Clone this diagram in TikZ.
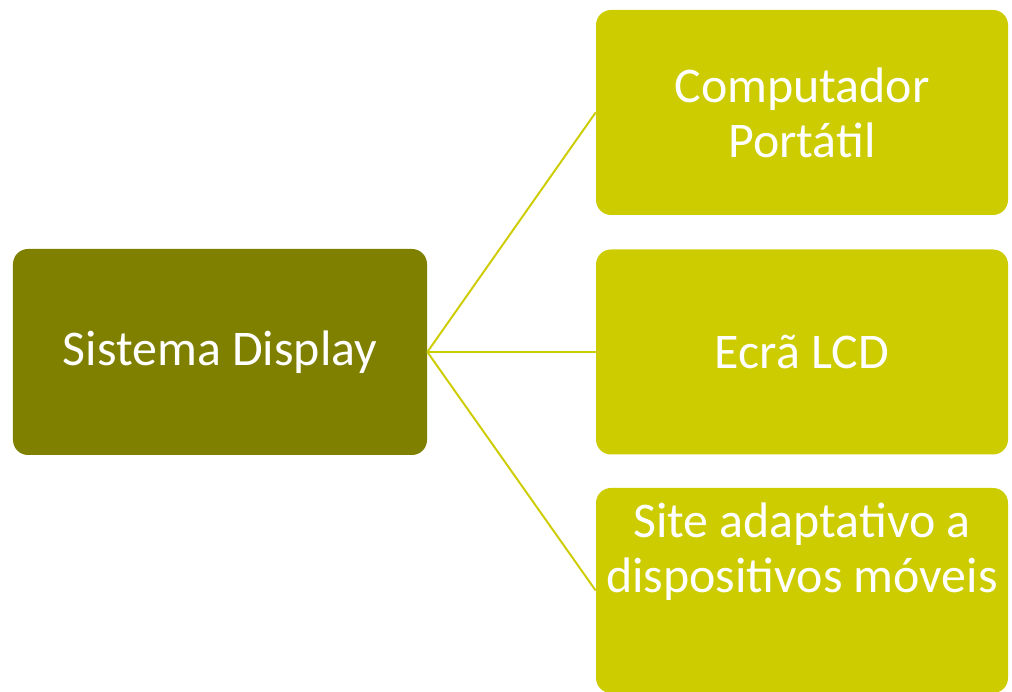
\documentclass[tikz,border=0pt]{standalone}
\usepackage{fontspec}
\setmainfont{Carlito}
\definecolor{oliveBox}{RGB}{128,128,0}
\definecolor{limeBox}{RGB}{204,204,0}

\begin{document}
\begin{tikzpicture}[
    box/.style={rounded corners=0.3cm, minimum width=8.24cm, minimum height=4.1cm,
        inner sep=0pt, text=white, align=center,
        font=\fontsize{28.4}{31.3}\selectfont},
    link/.style={limeBox, line width=1.1pt}
  ]
    \useasboundingbox (0,0) rectangle (20.24,13.84);

    % root on the left
    \node[box, fill=oliveBox, minimum width=8.28cm, minimum height=4.12cm] (sys) at (4.4,6.8) {Sistema Display};

    % three items on the right
    \node[box, fill=limeBox] (laptop) at (16.04,11.59) {Computador\\Portátil};
    \node[box, fill=limeBox] (lcd) at (16.04,6.8) {Ecrã LCD};
    \node[box, fill=limeBox] (site) at (16.04,2.03) {};
    \node[box, minimum height=0pt] (siteText) at (16.04,2.8) {Site adaptativo a\\dispositivos móveis};

    \draw[link] (sys.east) -- (laptop.west);
    \draw[link] (sys.east) -- (lcd.west);
    \draw[link] (sys.east) -- (site.west);
\end{tikzpicture}
\end{document}
